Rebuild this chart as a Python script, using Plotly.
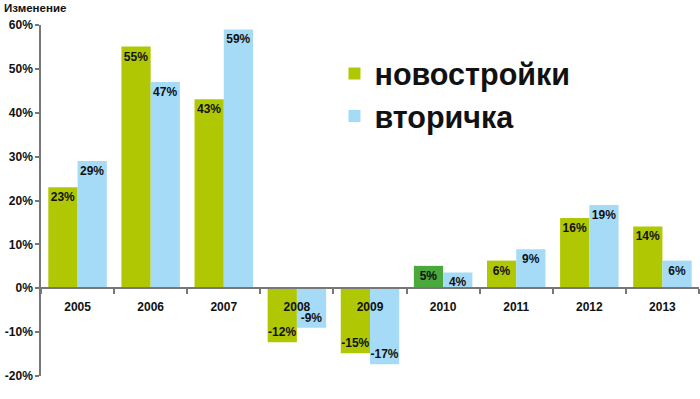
import plotly.graph_objects as go

years = ["2005", "2006", "2007", "2008", "2009", "2010", "2011", "2012", "2013"]
new_build = [23.0, 55.1, 43.1, -12.3, -14.8, 5.1, 6.3, 16.0, 14.1]
secondary = [29.0, 47.0, 59.0, -9.0, -17.3, 3.6, 8.9, 19.0, 6.3]
y_ticks = [-20, -10, 0, 10, 20, 30, 40, 50, 60]
y_tick_text = [f"{v}%" for v in y_ticks]

GREEN = "#b0c803"
DARK_GREEN = "#4aa83c"
BLUE = "#a6dbf7"
green_colors = [DARK_GREEN if y == "2010" else GREEN for y in years]

FONT = "Liberation Sans, Arial, sans-serif"

fig = go.Figure()
fig.add_trace(go.Bar(
    x=years, y=new_build, name="новостройки",
    marker=dict(color=green_colors, line=dict(width=0)),
    text=[f"{round(v)}%" for v in new_build],
    textposition="inside", insidetextanchor="end", textangle=0,
    constraintext="none",
    textfont=dict(family=FONT, size=12, color="#111111", weight="bold"),
))
fig.add_trace(go.Bar(
    x=years, y=secondary, name="вторичка",
    marker=dict(color=BLUE, line=dict(width=0)),
    text=[f"{round(v)}%" for v in secondary],
    textposition="inside", insidetextanchor="end", textangle=0,
    constraintext="none",
    textfont=dict(family=FONT, size=12, color="#111111", weight="bold"),
))

fig.update_layout(
    width=700, height=399,
    margin=dict(l=41, r=1, t=25, b=23, autoexpand=False),
    paper_bgcolor="white", plot_bgcolor="white",
    barmode="group", bargap=0.2, bargroupgap=0,
    font=dict(family=FONT, size=12, color="#111111"),
    showlegend=True,
    legend=dict(
        x=0.446, y=0.937, xanchor="left", yanchor="top",
        font=dict(family=FONT, size=30.5, color="#111111", weight="bold"),
        bgcolor="rgba(0,0,0,0)", tracegroupgap=0, itemwidth=30,
    ),
    xaxis=dict(
        type="category", anchor="free", position=0.25, automargin=False,
        showline=True, linecolor="#777777", linewidth=1.5,
        ticks="outside", ticklen=5, tickcolor="#777777", tickwidth=1.5,
        tickson="boundaries", showgrid=False, zeroline=False,
        ticklabelstandoff=8,
        tickfont=dict(family=FONT, size=12, color="#111111", weight="bold"),
    ),
    yaxis=dict(
        range=[-20, 60], tickvals=y_ticks, ticktext=y_tick_text, automargin=False,
        showline=True, linecolor="#777777", linewidth=1.5,
        ticks="outside", ticklen=4, tickcolor="#777777", tickwidth=1.5,
        showgrid=False, zeroline=False,
        tickfont=dict(family=FONT, size=12, color="#111111", weight="bold"),
    ),
    annotations=[dict(
        text="<b>Изменение</b>", xref="paper", yref="paper",
        x=-39/658, y=1 + 25/351, xanchor="left", yanchor="top",
        showarrow=False, font=dict(family=FONT, size=11.5, color="#111111"),
    )],
)

# remove the browser's default 8px body margin so the figure fills the window
fig.write_html(
    "out.html",
    config={"displayModeBar": False},
    post_script="document.body.style.margin='0';",
)
